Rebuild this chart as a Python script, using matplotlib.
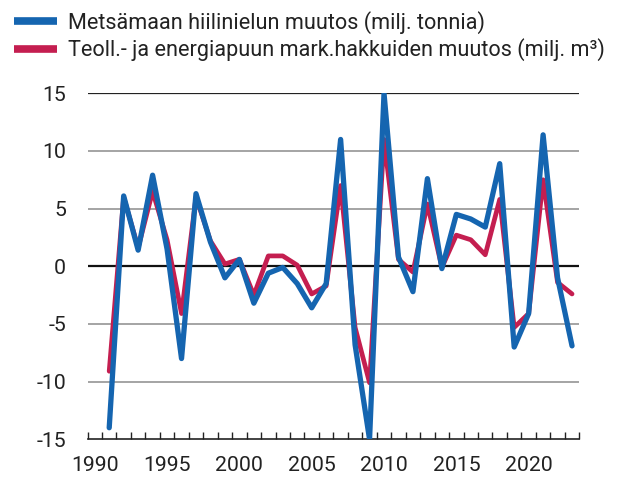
import matplotlib
matplotlib.use("Agg")
import matplotlib.pyplot as plt
from matplotlib.lines import Line2D
import numpy as np

plt.rcParams['font.family'] = ['Roboto', 'DejaVu Sans']

years = list(range(1991, 2024))
hiilinielu = [-14.0, 6.1, 1.4, 7.9, 1.5, -8.0, 6.3, 2.1, -1.0, 0.6,
              -3.2, -0.6, -0.1, -1.5, -3.6, -1.5, 11.0, -6.8, -15.0, 15.0,
              0.8, -2.2, 7.6, -0.2, 4.5, 4.1, 3.4, 8.9, -7.0, -4.1,
              11.4, -1.0, -6.9]
hakkuut = [-9.1, 6.0, 1.6, 6.5, 2.3, -4.1, 6.0, 2.2, 0.2, 0.6,
           -2.5, 0.9, 0.9, 0.1, -2.4, -1.7, 7.0, -5.3, -10.1, 11.0,
           0.6, -0.5, 5.4, -0.1, 2.7, 2.3, 1.0, 5.8, -5.3, -4.1,
           7.5, -1.4, -2.4]
labels = ["Metsämaan hiilinielun muutos (milj. tonnia)",
          "Teoll.- ja energiapuun mark.hakkuiden muutos (milj. m³)"]
yticks = [-15, -10, -5, 0, 5, 10, 15]
xticks = [1990, 1995, 2000, 2005, 2010, 2015, 2020]

blue = "#1565b0"
red = "#c41e50"
txt = "#222222"
fs = 15.3
lfs = 15.6

fig = plt.figure(figsize=(6.22, 4.78), dpi=100)
ax = fig.add_axes([0.1407, 0.081, 0.7906, 0.7238])

for y in yticks:
    if y == 0:
        ax.axhline(y, color="#111111", lw=1.6, zorder=1)
    elif y == 15:
        ax.axhline(y, color="#222222", lw=0.9, zorder=1)
    elif y == -15:
        pass
    else:
        ax.axhline(y, color="#8c8c8c", lw=1.1, zorder=1)

ax.plot(years, hakkuut, color=red, lw=3.4, solid_joinstyle='round',
        solid_capstyle='round', zorder=2)
ax.plot(years, hiilinielu, color=blue, lw=3.8, solid_joinstyle='round',
        solid_capstyle='round', zorder=3)

ax.set_xlim(1989.5, 2023.5)
ax.set_ylim(-15, 15)
for s in ['top', 'right', 'left']:
    ax.spines[s].set_visible(False)
ax.spines['bottom'].set_color("#222222")
ax.spines['bottom'].set_linewidth(1.2)

ax.set_yticks(yticks)
ax.set_yticklabels([str(v) for v in yticks])
ax.tick_params(axis='y', length=0, pad=15.5, labelsize=fs, labelcolor=txt)

ax.set_xticks(xticks)
ax.set_xticks(np.arange(1989.5, 2024.0, 1.0), minor=True)
ax.tick_params(axis='x', which='major', length=0, pad=12, labelsize=fs,
               labelcolor=txt)
ax.tick_params(axis='x', which='minor', direction='in', length=5,
               width=1.0, color="#222222")

handles = [Line2D([], [], color=blue, lw=5.5, solid_capstyle='butt'),
           Line2D([], [], color=red, lw=5.5, solid_capstyle='butt')]
fig.legend(handles, labels, loc='upper left', bbox_to_anchor=(0.0225, 0.977),
           frameon=False, fontsize=lfs, handlelength=1.99, handletextpad=0.5,
           labelspacing=0.2, borderaxespad=0.0, borderpad=0.0,
           labelcolor=txt)

fig.savefig("out.png", dpi=100)
